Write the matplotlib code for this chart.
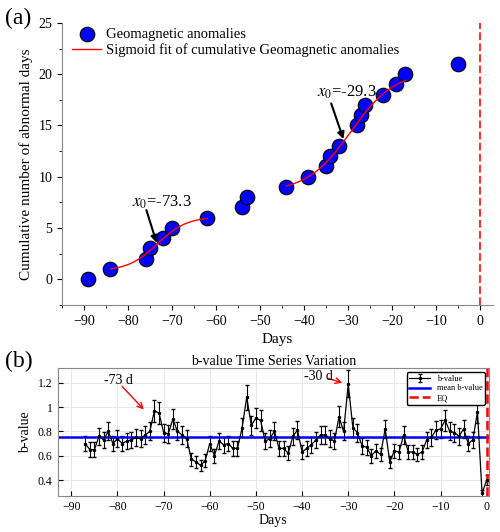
import matplotlib
matplotlib.use("Agg")
import matplotlib.pyplot as plt
import numpy as np

plt.rcParams['font.family'] = ['Liberation Serif', 'DejaVu Serif']
plt.rcParams['mathtext.fontset'] = 'stix'

anom_days = [-89, -84, -76, -75, -72, -70, -62, -54, -53, -44, -39, -35, -34, -32, -28, -27, -26, -22, -19, -17, -5]
anom_cum = [0, 1, 2, 3, 4, 5, 6, 7, 8, 9, 10, 11, 12, 13, 15, 16, 17, 18, 19, 20, 21]
# sigmoid fit params (a, L, k, x0, start, end)
fit1 = (0.8, 5.3, 0.3, -73.3, -84, -62)
fit2 = (8.5, 11.8, 0.2, -29.3, -44, -17)

b_days = list(range(-87, 1))
b_vals = [0.70, 0.65, 0.65, 0.76, 0.73, 0.80, 0.70, 0.74, 0.70, 0.72, 0.73, 0.75, 0.74, 0.77, 0.80,
          0.97, 0.95, 0.79, 0.78, 0.90, 0.80, 0.77, 0.74, 0.57, 0.55, 0.52, 0.56, 0.70, 0.60, 0.72,
          0.69, 0.70, 0.66, 0.66, 0.83, 1.08, 0.85, 0.91, 0.89, 0.72, 0.74, 0.80, 0.66, 0.66, 0.62,
          0.76, 0.81, 0.63, 0.66, 0.69, 0.73, 0.77, 0.77, 0.74, 0.72, 0.92, 0.80, 1.19, 0.83, 0.79,
          0.68, 0.67, 0.60, 0.64, 0.61, 0.82, 0.55, 0.64, 0.63, 0.77, 0.63, 0.63, 0.61, 0.63, 0.73,
          0.75, 0.81, 0.82, 0.89, 0.80, 0.79, 0.76, 0.82, 0.70, 0.73, 0.96, 0.29, 0.40]
b_mean = 0.75

fig = plt.figure(figsize=(5, 5.32), dpi=100)
ax1 = fig.add_axes([0.124, 0.427, 0.862, 0.530])
ax1.scatter(anom_days, anom_cum, s=110, c='blue', edgecolors='black', linewidths=0.8, zorder=3,
            label='Geomagnetic anomalies')
for i, (a, L, k, x0, s, e) in enumerate([fit1, fit2]):
    xx = np.linspace(s, e, 200)
    ax1.plot(xx, a + L / (1 + np.exp(-k * (xx - x0))), color='red', lw=1, zorder=4,
             label='Sigmoid fit of cumulative Geomagnetic anomalies' if i == 0 else None)
ax1.axvline(0, color='red', ls='--', lw=1.5, alpha=0.8)
ax1.set_xlim(-95, 3)
ax1.set_ylim(-2.4, 25)
ax1.set_xticks(range(-90, 1, 10))
ax1.set_xticks(range(-95, 1, 5), minor=True)
ax1.set_yticks(range(0, 26, 5))
ax1.set_yticks(np.arange(-2.5, 25, 2.5), minor=True)
for sp in ['top', 'right']:
    ax1.spines[sp].set_visible(False)
for sp in ['left', 'bottom']:
    ax1.spines[sp].set_color('#888888')
ax1.tick_params(labelsize=10)
ax1.set_xlabel('Days', fontsize=11)
ax1.set_ylabel('Cumulative number of abnormal days', fontsize=11)
ax1.legend(loc='upper left', frameon=False, fontsize=10.5, bbox_to_anchor=(0.0, 1.02),
           handletextpad=0.3, borderpad=0.2, labelspacing=0.2)
ax1.annotate('', xy=(-73.3, 3.3), xytext=(-76, 7.0),
             arrowprops=dict(arrowstyle='-|>', color='black', lw=1.5))
ax1.text(-79, 7.1, '$x_0$=-73.3', fontsize=12)
ax1.annotate('', xy=(-30.8, 13.4), xytext=(-34, 17.4),
             arrowprops=dict(arrowstyle='-|>', color='black', lw=1.5))
ax1.text(-37, 17.8, '$x_0$=-29.3', fontsize=12)
fig.text(0.01, 0.955, '(a)', fontsize=17)

ax2 = fig.add_axes([0.115, 0.068, 0.863, 0.240])
b_err = [0.07 * v / b_mean for v in b_vals]
h1 = ax2.errorbar(b_days, b_vals, yerr=b_err, color='black', lw=0.9, marker='.', ms=3,
                  capsize=1.5, elinewidth=0.8, label='b-value')
h2 = ax2.axhline(b_mean, color='blue', lw=1.8, label='mean b-value')
h3 = ax2.axvline(0, color='red', ls='--', lw=1.8, label='EQ')
ax2.set_xlim(-93, 0.5)
ax2.set_ylim(0.27, 1.32)
ax2.set_xticks(range(-90, 1, 10))
ax2.set_yticks([0.4, 0.6, 0.8, 1.0, 1.2])
ax2.set_yticklabels(['0.4', '0.6', '0.8', '1', '1.2'])
ax2.grid(True, color='#e6e6e6', lw=0.7)
for sp in ax2.spines.values():
    sp.set_color('#888888')
ax2.tick_params(labelsize=8.5, direction='in')
ax2.set_xlabel('Days', fontsize=10, labelpad=1)
ax2.set_ylabel('b-value', fontsize=10)
ax2.set_title('b-value Time Series Variation', fontsize=10, pad=2)
ax2.legend(handles=[h1, h2, h3], loc='upper right', fontsize=6, framealpha=1, edgecolor='black',
           borderpad=0.3, labelspacing=0.2, handlelength=2.5)
ax2.annotate('', xy=(-74.3, 0.98), xytext=(-79, 1.17),
             arrowprops=dict(arrowstyle='->', color='red', lw=1, shrinkA=0, shrinkB=0))
ax2.text(-83, 1.19, '-73 d', fontsize=10)
ax2.annotate('', xy=(-31.3, 1.2), xytext=(-34.3, 1.235),
             arrowprops=dict(arrowstyle='->', color='red', lw=1, shrinkA=0, shrinkB=0))
ax2.text(-39.5, 1.22, '-30 d', fontsize=10)
fig.text(0.01, 0.31, '(b)', fontsize=17)

fig.savefig('out.png', dpi=100)
